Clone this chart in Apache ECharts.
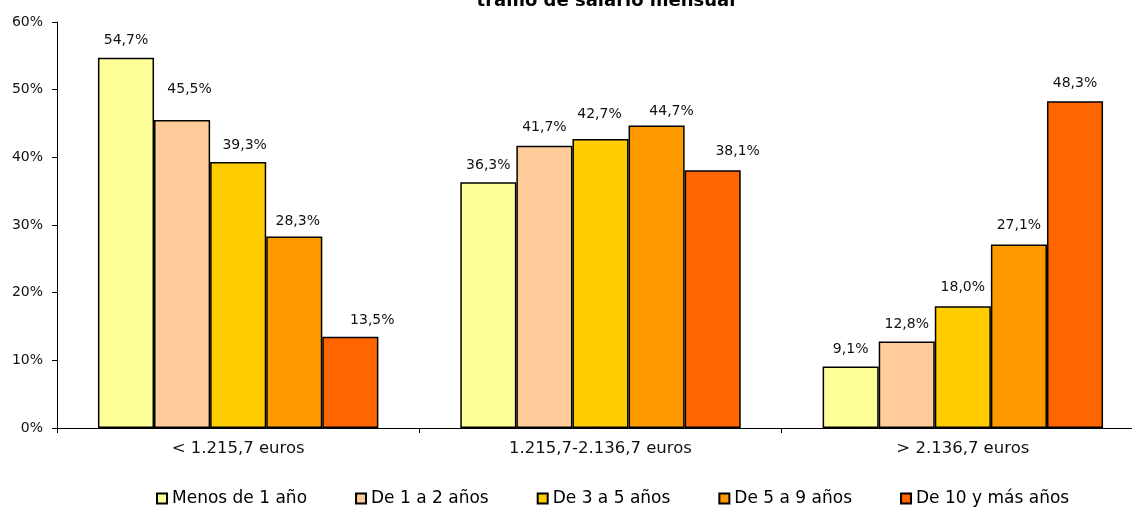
<!DOCTYPE html>
<html>
<head>
<meta charset="utf-8">
<script src="https://cdn.jsdelivr.net/npm/echarts@6/dist/echarts.min.js"></script>
<style>
html,body{margin:0;padding:0;background:#fff;}
#chart{width:1132px;height:508px;}
</style>
</head>
<body>
<div id="chart"></div>
<script>
const categories = ['< 1.215,7 euros', '1.215,7-2.136,7 euros', '> 2.136,7 euros'];
const seriesNames = ['Menos de 1 año', 'De 1 a 2 años', 'De 3 a 5 años', 'De 5 a 9 años', 'De 10 y más años'];
const menos1 = [54.7, 36.3, 9.1];
const de1a2 = [45.5, 41.7, 12.8];
const de3a5 = [39.3, 42.7, 18.0];
const de5a9 = [28.3, 44.7, 27.1];
const de10mas = [13.5, 38.1, 48.3];
const yTicks = [0, 10, 20, 30, 40, 50, 60];
const titleText = 'tramo de salario mensual';
const colors = ['#FFFF99', '#FFCC99', '#FFCC00', '#FF9900', '#FF6600'];

// manual label nudges (pixels) as in the original chart, per series then category
const labelNudges = [
  [[0, 0], [0, 0], [0, 0]],
  [[7.5, -13.5], [0, -1], [0, 0]],
  [[6.5, 0.5], [-1, -7.5], [0, -1.5]],
  [[3.5, 2], [15, 3], [0, -1.5]],
  [[22, 1.5], [25, -1], [0, -0.5]]
];

const seriesData = [menos1, de1a2, de3a5, de5a9, de10mas];
const FONT = 'DejaVu Sans';

const chart = echarts.init(document.getElementById('chart'), null, {renderer: 'canvas'});
chart.setOption({
  animation: false,
  backgroundColor: '#ffffff',
  graphic: [{
    type: 'text',
    x: 606,
    y: 1,
    style: {
      text: titleText,
      font: 'bold 18px "DejaVu Sans"',
      fill: '#000',
      align: 'center',
      verticalAlign: 'middle'
    }
  }],
  grid: {left: 57, right: -12, top: 22, bottom: 80, outerBoundsMode: 'none'},
  legend: {
    left: 151,
    top: 485,
    itemWidth: 10,
    itemHeight: 10,
    itemGap: 48,
    icon: 'rect',
    data: seriesNames,
    textStyle: {fontFamily: FONT, fontSize: 17, color: '#000'}
  },
  xAxis: {
    type: 'category',
    data: categories,
    axisLine: {lineStyle: {color: '#000', width: 1}},
    axisTick: {show: true, length: 5, lineStyle: {color: '#000'}},
    axisLabel: {fontFamily: FONT, fontSize: 16.5, color: '#111', margin: 12}
  },
  yAxis: {
    type: 'value',
    min: yTicks[0],
    max: yTicks[yTicks.length - 1],
    interval: 10,
    splitLine: {show: false},
    axisLine: {show: true, lineStyle: {color: '#000', width: 1}},
    axisTick: {show: true, length: 5, lineStyle: {color: '#000'}},
    axisLabel: {fontFamily: FONT, fontSize: 14, color: '#111', margin: 14, formatter: '{value}%'}
  },
  series: seriesNames.map((name, i) => ({
    name: name,
    type: 'bar',
    data: seriesData[i].map((v, j) => ({
      value: v,
      label: {offset: labelNudges[i][j]}
    })),
    barGap: '0%',
    barCategoryGap: '22.6%',
    itemStyle: {color: colors[i], borderColor: '#000', borderWidth: 1.5},
    label: {
      show: true,
      position: 'top',
      distance: 10.5,
      fontFamily: FONT,
      fontSize: 14,
      color: '#111',
      formatter: p => p.value.toFixed(1).replace('.', ',') + '%'
    }
  }))
});
</script>
</body>
</html>
